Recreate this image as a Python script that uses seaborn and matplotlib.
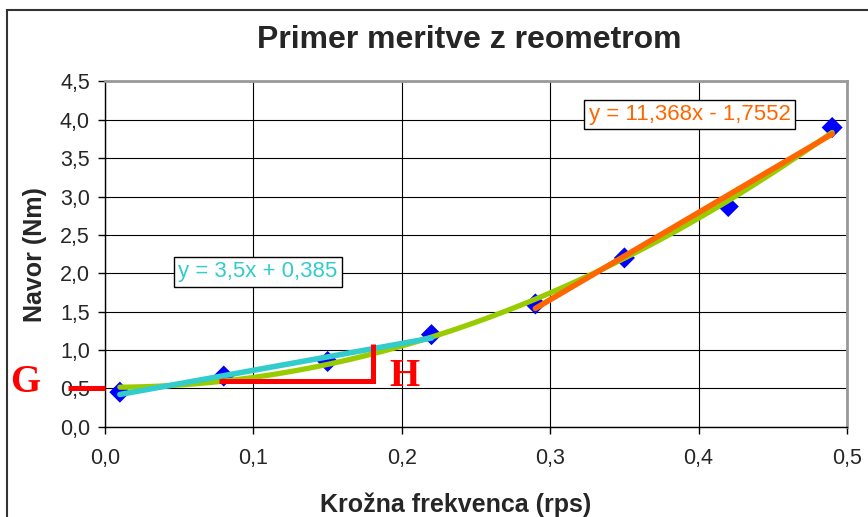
import numpy as np
import pandas as pd
import seaborn as sns
import matplotlib.pyplot as plt
from matplotlib.patches import Rectangle
from matplotlib.ticker import FuncFormatter

# measured points
freq = [0.01, 0.08, 0.15, 0.22, 0.29, 0.35, 0.42, 0.49]
torque = [0.45, 0.66, 0.85, 1.2, 1.6, 2.2, 2.87, 3.9]

# linear trendlines as printed on the chart (slope, intercept)
low_fit = (3.5, 0.385)
high_fit = (11.368, -1.7552)
low_label = "y = 3,5x + 0,385"
high_label = "y = 11,368x - 1,7552"

x_ticks = [0.0, 0.1, 0.2, 0.3, 0.4, 0.5]
y_ticks = [0.0, 0.5, 1.0, 1.5, 2.0, 2.5, 3.0, 3.5, 4.0, 4.5]

# red helper lines (G and H)
g_line_x = [-0.025, 0.0]
g_line_y = [0.51, 0.51]
h_line_x = [0.077, 0.1805, 0.1805]
h_line_y = [0.597, 0.597, 1.075]

df = pd.DataFrame({"freq": freq, "torque": torque})
low = df.iloc[:4]
high = df.iloc[4:]

sns.set_style("white")
plt.rcParams['font.family'] = ['Liberation Sans', 'DejaVu Sans']

fig = plt.figure(figsize=(8.68, 5.17), dpi=100)
ax = fig.add_axes([0.121, 0.1747, 0.8548, 0.6677])

sns.scatterplot(data=df, x="freq", y="torque", marker="D", s=115, color="#0000FF",
                edgecolor="none", ax=ax, zorder=3)

# polynomial trendline (order 2) over all points
coef = np.polyfit(freq, torque, 2)
xs = np.linspace(freq[0], freq[-1], 100)
sns.lineplot(x=xs, y=np.polyval(coef, xs), color="#99CC00", lw=3.8, ax=ax, zorder=4)

xl = np.array([low.freq.min(), low.freq.max()])
sns.lineplot(x=xl, y=low_fit[0] * xl + low_fit[1], color="#33CCCC", lw=4, ax=ax, zorder=5)
xh = np.array([high.freq.min(), high.freq.max()])
sns.lineplot(x=xh, y=high_fit[0] * xh + high_fit[1], color="#FF6600", lw=4, ax=ax, zorder=5)

ax.plot(h_line_x, h_line_y, color="#FF0000", lw=3.6, solid_joinstyle="miter",
        solid_capstyle="butt", zorder=6)
ax.plot(g_line_x, g_line_y, color="#FF0000", lw=3.6, solid_capstyle="butt",
        clip_on=False, zorder=6)

ax.text(-0.054, 0.57, "G", color="#FF0000", fontsize=28, fontweight="bold",
        family="Liberation Serif", ha="center", va="center", clip_on=False)
ax.text(0.2017, 0.66, "H", color="#FF0000", fontsize=28, fontweight="bold",
        family="Liberation Serif", ha="center", va="center")

box = dict(boxstyle="square,pad=0.2", fc="white", ec="black", lw=1)
ax.text(0.1029, 2.02, low_label, color="#33CCCC", fontsize=16, ha="center",
        va="center", bbox=box, zorder=7)
ax.text(0.394, 4.07, high_label, color="#FF6600", fontsize=16, ha="center",
        va="center", bbox=box, zorder=7)

ax.set_xlim(0, 0.5)
ax.set_ylim(0, 4.5)
ax.set_xticks(x_ticks)
ax.set_yticks(y_ticks)
comma = FuncFormatter(lambda v, _: f"{v:.1f}".replace(".", ","))
ax.xaxis.set_major_formatter(comma)
ax.yaxis.set_major_formatter(comma)
ax.grid(True, color="black", lw=0.8)
ax.set_axisbelow(True)

ax.tick_params(left=True, bottom=True, direction="out", length=5, width=1,
               color="black", labelsize=15.5)
ax.tick_params(axis="x", pad=10)
ax.tick_params(axis="y", pad=6)

for side in ["left", "bottom"]:
    ax.spines[side].set_color("black")
    ax.spines[side].set_linewidth(1)
for side in ["top", "right"]:
    ax.spines[side].set_color("#999999")
    ax.spines[side].set_linewidth(2)

ax.set_xlabel("Krožna frekvenca (rps)", fontsize=18, fontweight="bold", va="center")
ax.set_ylabel("Navor (Nm)", fontsize=18, fontweight="bold", va="center")
ax.xaxis.set_label_coords(0.472, -0.227)
ax.yaxis.set_label_coords(-0.094, 0.5)

fig.text(0.541, 0.923, "Primer meritve z reometrom", fontsize=23,
         fontweight="bold", ha="center", va="center")

fig.patches.append(Rectangle((7 / 868, -0.1), 1.2, 1.1 - 10 / 517,
                             transform=fig.transFigure, fill=False,
                             ec="#333333", lw=1.5))

fig.savefig("out.png", dpi=100)
